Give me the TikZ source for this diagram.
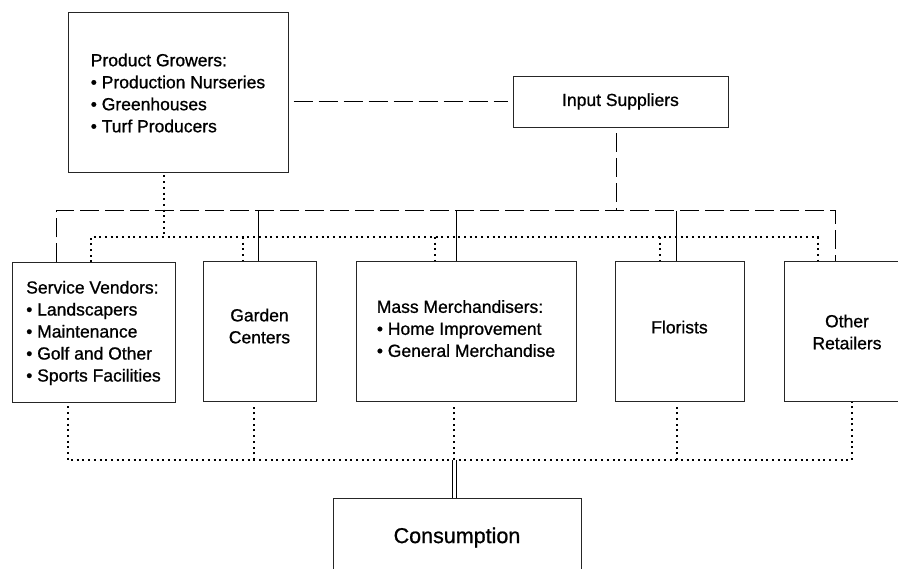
\documentclass[tikz,border=0pt]{standalone}
\usepackage{fontspec}
\setmainfont{Liberation Sans}[RawFeature={embolden=0.9}]
\usetikzlibrary{calc}
\begin{document}
\begin{tikzpicture}[x=1pt,y=-1pt,
  box/.style={draw=black!85, line width=1pt, inner sep=0pt, font=\fontsize{17.5}{22}\selectfont, text=black},
  bigbox/.style={draw=black!85, line width=1pt, inner sep=0pt, font=\fontsize{21.5}{26}\selectfont, text=black},
  dashln/.style={line width=1pt, dash pattern=on 19pt off 6pt},
  dotln/.style={line width=2pt, dash pattern=on 2pt off 3.7pt},
  dblln/.style={double, double distance=3.6pt, line width=0.9pt}
]
\useasboundingbox (0,0) rectangle (898,569);

% boxes
\node[box, align=left, minimum width=220pt, minimum height=160pt] (pg) at (178,93)
  {Product Growers:\\• Production Nurseries\\• Greenhouses\\• Turf Producers};
\node[box, align=center, minimum width=215pt, minimum height=51pt, text depth=0pt, text height=7pt] (is) at (620.5,102.5) {Input Suppliers};

\node[box, align=left, minimum width=163pt, minimum height=140pt] (sv) at (93.5,333)
  {Service Vendors:\\• Landscapers\\• Maintenance\\• Golf and Other\\• Sports Facilities};
\node[box, align=center, minimum width=113pt, minimum height=140pt] (gc) at (259.5,332) {Garden\\Centers\\[-10pt]};
\node[box, align=left, minimum width=220pt, minimum height=140pt] (mm) at (466,332)
  {Mass Merchandisers:\\• Home Improvement\\• General Merchandise\\[-15pt]};
\node[box, align=center, minimum width=129pt, minimum height=140pt] (fl) at (679.5,332) {Florists\\[-12pt]};
\node[box, align=center, minimum width=126pt, minimum height=140pt] (or) at (847,332) {Other\\Retailers};

\node[bigbox, align=center, minimum width=248pt, minimum height=77pt] (co) at (457,537.5) {Consumption};

% helper coordinates
\coordinate (bd) at (0,211);   % dashed bus level
\coordinate (bt) at (0,237);   % upper dotted bus level
\coordinate (bb) at (0,460);   % lower dotted bus level

% dashed: growers -- input suppliers
\draw[dashln, shorten <=5pt, shorten >=5pt] (pg.east |- 0,102) -- (is.west |- 0,102);

% dashed: input suppliers down to bus
\coordinate (isd) at ($(is.south)+(-4.5,0)$);
\draw[dashln, shorten <=5pt] (isd) -- (isd |- bd);

% dashed bus with drops
\coordinate (d1) at ($(sv.north west)+(45,0)$);
\coordinate (d2) at ($(gc.north west)+(56,0)$);
\coordinate (d3) at ($(mm.north west)+(101,0)$);
\coordinate (d4) at ($(fl.north west)+(62,0)$);
\coordinate (d5) at ($(or.north west)+(52,0)$);
\draw[dashln] (d1) -- (d1 |- bd) -- (d5 |- bd) -- (d5);
\draw[line width=1pt] (d2 |- bd) -- (d2);
\draw[line width=1pt] (d3 |- bd) -- (d3);
\draw[line width=1pt] (d4 |- bd) -- (d4);

% dotted: growers down to bus
\coordinate (pgd) at ($(pg.south)+(-14,0)$);
\draw[dotln, shorten <=2pt] (pgd) -- (pgd |- bt);

% upper dotted bus with drops
\coordinate (t1) at ($(sv.north west)+(79,0)$);
\coordinate (t2) at ($(gc.north west)+(40,0)$);
\coordinate (t3) at ($(mm.north west)+(79,0)$);
\coordinate (t4) at ($(fl.north west)+(45,0)$);
\coordinate (t5) at ($(or.north west)+(34,0)$);
\draw[dotln] (t1) -- (t1 |- bt) -- (t5 |- bt) -- (t5);
\draw[dotln] (t2 |- bt) -- (t2);
\draw[dotln] (t3 |- bt) -- (t3);
\draw[dotln] (t4 |- bt) -- (t4);

% lower dotted bus with drops
\coordinate (b1) at ($(sv.south west)+(56,0)$);
\coordinate (b2) at ($(gc.south west)+(51,0)$);
\coordinate (b3) at ($(mm.south west)+(98,0)$);
\coordinate (b4) at ($(fl.south west)+(62,0)$);
\coordinate (b5) at ($(or.south west)+(68,0)$);
\draw[dotln, shorten <=3pt] (b1) -- (b1 |- bb) -- (b5 |- bb) -- (b5);
\draw[dotln, shorten >=3pt] (b2 |- bb) -- (b2);
\draw[dotln, shorten >=3pt] (b3 |- bb) -- (b3);
\draw[dotln, shorten >=3pt] (b4 |- bb) -- (b4);

% double line to consumption
\coordinate (cn) at ($(co.north)+(-2.5,0)$);
\draw[dblln] (cn |- bb) -- (cn);
\end{tikzpicture}
\end{document}
